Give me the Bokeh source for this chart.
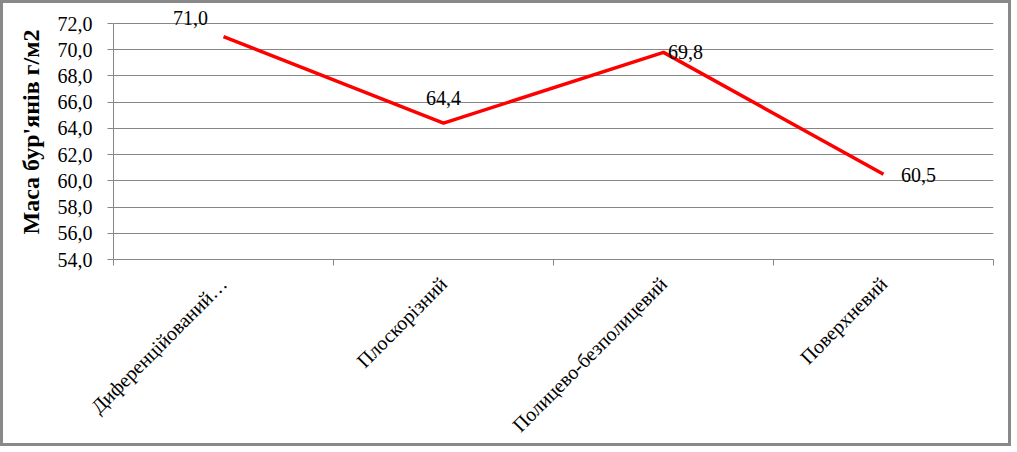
import json
from bokeh.plotting import figure
from bokeh.models import Range1d, FixedTicker, CustomJSTickFormatter, ColumnDataSource, LabelSet
from bokeh.embed import file_html
from bokeh.resources import INLINE
from math import pi

categories = ["Диференційований…", "Плоскорізний", "Полицево-безполицевий", "Поверхневий"]
values = [71.0, 64.4, 69.8, 60.5]
y_ticks = [54, 56, 58, 60, 62, 64, 66, 68, 70, 72]
y_title = "Маса бур'янів г/м2"

# label placement offsets (screen px, right / down), styling only
label_dx = [-33, 0, 22, 35]
label_dy = [-19, -25, 0, 1]

FONT = "Liberation Serif"
GRAY = "#868686"

# frame extends 19px above the top tick so the first data label is not clipped
y_lo, y_hi = y_ticks[0], y_ticks[-1]
px_per_unit = 236 / (y_hi - y_lo)
y_top = y_hi + 19 / px_per_unit

p = figure(width=1011, height=446, output_backend="svg", toolbar_location=None,
           x_range=Range1d(0, len(categories)), y_range=Range1d(y_lo, y_top),
           min_border_left=110, min_border_right=21, min_border_top=1, min_border_bottom=190,
           styles={"border": "3px solid #898989"})
p.background_fill_color = "white"
p.border_fill_color = "white"
p.outline_line_color = None

xs = [i + 0.5 for i in range(len(categories))]
src = ColumnDataSource(dict(x=xs, y=values,
                            lbl=[f"{v:.1f}".replace(".", ",") for v in values],
                            dx=label_dx, dy=[-d for d in label_dy]))

p.line("x", "y", source=src, line_color="#FF0000", line_width=3.5)
labels = LabelSet(x="x", y="y", text="lbl", source=src, x_offset="dx", y_offset="dy",
                  text_align="center", text_baseline="middle",
                  text_font=FONT, text_font_size="20px", text_color="black")
p.add_layout(labels)

# x axis
xa = p.xaxis[0]
xa.ticker = FixedTicker(ticks=xs, minor_ticks=list(range(len(categories) + 1)))
xa.formatter = CustomJSTickFormatter(code="const c = %s; return c[Math.floor(tick)];" % json.dumps(categories, ensure_ascii=False))
xa.major_label_orientation = pi / 4
xa.major_tick_line_color = None
xa.major_tick_in = 0
xa.major_tick_out = 6
xa.minor_tick_in = 0
xa.minor_tick_out = 6
xa.minor_tick_line_color = GRAY
xa.axis_line_color = GRAY
xa.major_label_standoff = 15
xa.major_label_text_font = FONT
xa.major_label_text_font_size = "20px"
xa.major_label_text_color = "black"

# y axis
ya = p.yaxis[0]
ya.bounds = (y_lo, y_hi)
ya.ticker = FixedTicker(ticks=y_ticks)
ya.formatter = CustomJSTickFormatter(code="return tick.toFixed(1).replace('.', ',');")
ya.major_tick_in = 0
ya.major_tick_out = 6
ya.major_tick_line_color = GRAY
ya.minor_tick_line_color = None
ya.axis_line_color = GRAY
ya.major_label_standoff = 15
ya.major_label_text_font = FONT
ya.major_label_text_font_size = "20px"
ya.major_label_text_color = "black"
ya.axis_label = y_title
ya.axis_label_text_font = FONT
ya.axis_label_text_font_size = "24px"
ya.axis_label_text_font_style = "bold"
ya.axis_label_text_color = "black"
ya.axis_label_standoff = 11

p.xgrid.visible = False
p.ygrid.grid_line_color = GRAY
p.ygrid.grid_line_width = 1

open("out.html", "w").write(file_html(p, INLINE))
